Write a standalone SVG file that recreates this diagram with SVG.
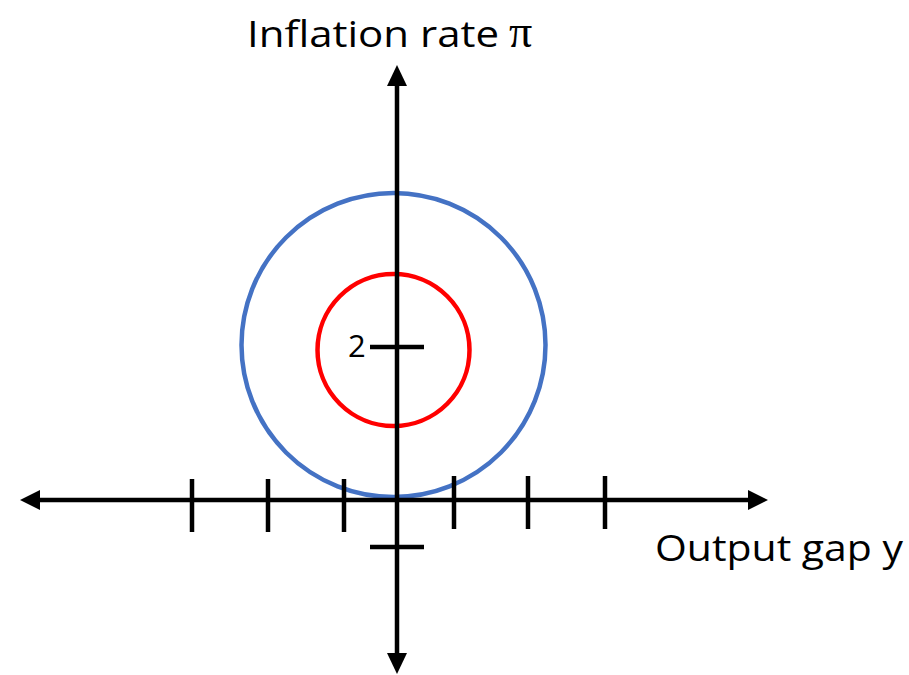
<svg xmlns="http://www.w3.org/2000/svg" width="909" height="675" viewBox="0 0 909 675">
<style>
.axis{stroke:#000;stroke-width:4.5;fill:none}
.tick{stroke:#000;stroke-width:4.5;fill:none}
.head{fill:#000}
.lbl{font-family:"Open Sans","Liberation Sans",sans-serif;fill:#000}
.pi{font-family:"Liberation Serif","Times New Roman",serif;font-size:46px}
.two{font-size:31px}
</style>
<rect width="909" height="675" fill="#fff"/>
<g id="curves">
<circle id="blue-circle" cx="393.5" cy="345" r="152" fill="none" stroke="#4472C4" stroke-width="4.5"/>
<circle id="red-circle" cx="393.5" cy="350" r="76" fill="none" stroke="#FF0000" stroke-width="4.5"/>
</g>
<g id="connectors">
<line class="axis" x1="38" y1="500" x2="750" y2="500"/>
<polygon class="head" points="20,500 40,490 40,510"/>
<polygon class="head" points="768,500 748,490 748,510"/>
<line class="axis" x1="397" y1="83" x2="397" y2="655"/>
<polygon class="head" points="397,65 387,86 407,86"/>
<polygon class="head" points="397,674 387,653 407,653"/>
<line class="tick" x1="192" y1="479" x2="192" y2="532"/>
<line class="tick" x1="268" y1="479" x2="268" y2="532"/>
<line class="tick" x1="344" y1="479" x2="344" y2="532"/>
<line class="tick" x1="454" y1="476" x2="454" y2="529"/>
<line class="tick" x1="528" y1="476" x2="528" y2="529"/>
<line class="tick" x1="605" y1="476" x2="605" y2="529"/>
<line class="tick" x1="370" y1="347" x2="424" y2="347"/>
<line class="tick" x1="370" y1="547" x2="424" y2="547"/>
</g>
<g id="labels">
<text class="lbl" x="247" y="47" font-size="36"><tspan textLength="252" lengthAdjust="spacingAndGlyphs">Inflation rate</tspan><tspan class="pi" x="509">π</tspan></text>
<text class="lbl" x="655" y="561" font-size="36" textLength="248" lengthAdjust="spacingAndGlyphs">Output gap y</text>
<text class="lbl two" x="348" y="357">2</text>
</g>
</svg>
